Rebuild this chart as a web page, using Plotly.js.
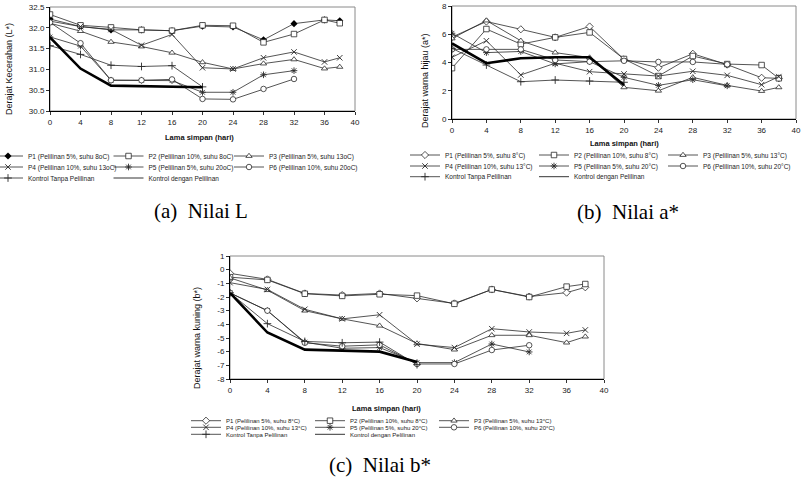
<!DOCTYPE html>
<html><head><meta charset="utf-8">
<script src="https://cdn.plot.ly/plotly-3.0.1.min.js"></script>
<style>html,body{margin:0;padding:0;background:#fff}#chart{width:804px;height:486px}</style>
</head><body><div id="chart"></div>
<script>
// ---- data ----
const days = [0, 4, 8, 12, 16, 20, 24, 28, 32, 36, 38];
const daysShort = [0, 4, 8, 12, 16, 20, 24, 28, 32];
const daysKontrol = [0, 4, 8, 12, 16, 20];

// (a) Nilai L
const L_P1 = [32.21, 32.03, 31.95, 31.95, 31.93, 32.04, 32.02, 31.71, 32.10, 32.19, 32.17];
const L_P2 = [32.32, 32.06, 32.01, 31.95, 31.93, 32.06, 32.05, 31.65, 31.85, 32.19, 32.11];
const L_P3 = [32.11, 31.92, 31.66, 31.55, 31.40, 31.17, 31.01, 31.14, 31.24, 31.02, 31.06];
const L_P4 = [32.16, 32.03, 31.96, 31.58, 31.84, 31.04, 31.01, 31.28, 31.42, 31.18, 31.28];
const L_P5 = [31.78, 31.56, 30.74, 30.74, 30.73, 30.45, 30.45, 30.87, 30.97];
const L_P6 = [32.13, 31.63, 30.74, 30.74, 30.76, 30.29, 30.28, 30.53, 30.77];
const L_KT = [31.57, 31.36, 31.10, 31.07, 31.09, 30.58];
const L_KD = [31.77, 31.02, 30.61, 30.60, 30.58, 30.57];

// (b) Nilai a*
const A_P1 = [5.80, 6.90, 6.35, 5.78, 6.55, 4.22, 3.63, 4.62, 3.85, 2.92, 2.88];
const A_P2 = [3.60, 6.37, 5.30, 5.78, 6.13, 4.25, 3.04, 4.46, 3.89, 3.82, 2.88];
const A_P3 = [5.70, 6.97, 5.54, 4.70, 4.35, 2.24, 2.00, 2.95, 2.38, 1.98, 2.24];
const A_P4 = [4.37, 5.54, 3.12, 3.95, 3.35, 3.19, 3.04, 3.38, 3.09, 2.43, 3.00];
const A_P5 = [6.07, 4.70, 4.78, 3.90, 4.06, 2.95, 2.38, 2.78, 2.35];
const A_P6 = [4.93, 4.93, 4.93, 4.18, 4.06, 4.12, 4.04, 4.04, 3.87];
const A_KT = [5.00, 3.82, 2.64, 2.76, 2.69, 2.60];
const A_KD = [5.35, 3.95, 4.30, 4.37, 4.37, 2.40];

// (c) Nilai b*
const B_P1 = [-0.27, -0.71, -1.74, -1.86, -1.74, -2.10, -2.47, -1.45, -1.97, -1.68, -1.29];
const B_P2 = [-0.55, -0.75, -1.76, -1.92, -1.80, -1.90, -2.50, -1.45, -2.00, -1.24, -1.05];
const B_P3 = [-0.60, -1.50, -3.00, -3.60, -4.10, -5.40, -5.85, -4.80, -4.80, -5.34, -4.90];
const B_P4 = [-0.95, -1.45, -2.90, -3.60, -3.30, -5.45, -5.70, -4.32, -4.56, -4.66, -4.41];
const B_P5 = [-1.70, -3.00, -5.30, -5.75, -5.70, -6.80, -6.80, -5.44, -6.02];
const B_P6 = [-1.70, -3.00, -5.35, -5.60, -5.50, -6.90, -6.90, -5.88, -5.53];
const B_KT = [-1.70, -3.95, -5.25, -5.35, -5.30, -6.95];
const B_KD = [-1.70, -4.60, -5.85, -5.90, -6.00, -6.75];

// tick labels for (c) y axis (plain hyphen minus as in the reference)
const bTickVals = [1, 0, -1, -2, -3, -4, -5, -6, -7, -8];
const bTickText = ['1', '0', '-1', '-2', '-3', '-4', '-5', '-6', '-7', '-8'];

const namesA = ['P1 (Pelilinan 5%, suhu 8oC)', 'P2 (Pelilinan 10%, suhu 8oC)', 'P3 (Pelilinan 5%, suhu 13oC)',
  'P4 (Pelilinan 10%, suhu 13oC)', 'P5 (Pelilinan 5%, suhu 20oC)', 'P6 (Pelilinan 10%, suhu 20oC)',
  'Kontrol Tanpa Pelilinan', 'Kontrol dengan Pelilinan'];
const namesBC = ['P1 (Pelilinan 5%, suhu 8°C)', 'P2 (Pelilinan 10%, suhu 8°C)', 'P3 (Pelilinan 5%, suhu 13°C)',
  'P4 (Pelilinan 10%, suhu 13°C)', 'P5 (Pelilinan 5%, suhu 20°C)', 'P6 (Pelilinan 10%, suhu 20°C)',
  'Kontrol Tanpa Pelilinan', 'Kontrol dengan Pelilinan'];
const xTitle = 'Lama simpan (hari)';
const yTitles = ['Derajat Kecerahan (L*)', 'Derajat warna hijau (a*)', 'Derajat warna kuning (b*)'];
const captions = ['(a)  Nilai L', '(b)  Nilai a*', '(c)  Nilai b*'];

// ---- styling / layout ----
const W = 804, H = 486;
const px = x => x / W;
const py = y => 1 - y / H;
const FONT = 'Arial, "Liberation Sans", sans-serif';
const LC = '#2a2a2a';
const MS = 5.5;

function markerFor(i, chart) {
  const white = (sym) => ({symbol: sym, size: MS, color: '#fff', line: {color: LC, width: 0.8}});
  const open = (sym) => ({symbol: sym, size: MS, color: LC, line: {width: 0.9}});
  switch (i) {
    case 0: return chart === 0 ? {symbol: 'diamond', size: MS, color: '#000', line: {width: 0}} : white('diamond');
    case 1: return white('square');
    case 2: return white('triangle-up');
    case 3: return open('x-thin-open');
    case 4: return open('asterisk-open');
    case 5: return white('circle');
    case 6: return open('cross-thin-open');
  }
}

const charts = [
  {xs: [days, days, days, days, daysShort, daysShort, daysKontrol, daysKontrol],
   ys: [L_P1, L_P2, L_P3, L_P4, L_P5, L_P6, L_KT, L_KD], names: namesA},
  {xs: [days, days, days, days, daysShort, daysShort, daysKontrol, daysKontrol],
   ys: [A_P1, A_P2, A_P3, A_P4, A_P5, A_P6, A_KT, A_KD], names: namesBC},
  {xs: [days, days, days, days, daysShort, daysShort, daysKontrol, daysKontrol],
   ys: [B_P1, B_P2, B_P3, B_P4, B_P5, B_P6, B_KT, B_KD], names: namesBC}
];
const lastColWidth = [100, 130, 130];

const axSuffix = ['', '2', '3'];
const traces = [];
charts.forEach((c, ci) => {
  for (let i = 0; i < 8; i++) {
    const row = i < 3 ? 0 : (i < 6 ? 1 : 2);
    const col = i < 6 ? i % 3 : i - 6;
    const legNum = ci * 3 + row + 1;
    const t = {
      type: 'scatter', x: c.xs[i], y: c.ys[i], name: c.names[i],
      xaxis: 'x' + axSuffix[ci], yaxis: 'y' + axSuffix[ci],
      legend: legNum === 1 ? 'legend' : 'legend' + legNum,
      hoverinfo: 'skip'
    };
    if (col === 2) t.legendwidth = lastColWidth[ci];
    if (i === 7) {
      // thin legend entry (hidden under the thick line) + thick line without legend
      t.mode = 'lines';
      t.line = {color: '#000', width: 0.8};
      traces.push(t);
      traces.push({type: 'scatter', mode: 'lines', x: c.xs[i], y: c.ys[i], name: c.names[i],
        xaxis: 'x' + axSuffix[ci], yaxis: 'y' + axSuffix[ci], showlegend: false, hoverinfo: 'skip',
        line: {color: '#000', width: 2.6}});
    } else {
      t.mode = 'lines+markers';
      t.line = {color: LC, width: 0.8};
      t.marker = markerFor(i, ci);
      traces.push(t);
    }
  }
});

const geom = [
  {x0: 50, x1: 355, y0: 7, y1: 111, yr: [30, 32.5], dt: 0.5, fmt: '.1f'},
  {x0: 452, x1: 796, y0: 6, y1: 119, yr: [0, 8], dt: 2, fmt: 'd'},
  {x0: 230, x1: 604, y0: 256, y1: 379, yr: [-8, 1], dt: 1, fmt: 'd'}
];

const layout = {
  width: W, height: H,
  margin: {l: 0, r: 0, t: 0, b: 0, autoexpand: false},
  paper_bgcolor: '#fff', plot_bgcolor: '#fff',
  font: {family: FONT, color: '#222', size: 8},
  showlegend: true,
  shapes: [], annotations: []
};

geom.forEach((g, gi) => {
  const s = axSuffix[gi];
  layout['xaxis' + s] = {
    domain: [px(g.x0), px(g.x1)], range: [0, 40], anchor: 'y' + s,
    tickmode: 'linear', tick0: 0, dtick: 4, ticks: 'outside', ticklen: 3, tickwidth: 0.8, tickcolor: '#000',
    showline: true, linecolor: '#000', linewidth: 1, showgrid: false, zeroline: false,
    tickfont: {family: FONT, size: 8, color: '#222'}, fixedrange: true
  };
  layout['yaxis' + s] = {
    domain: [py(g.y1), py(g.y0)], range: g.yr, anchor: 'x' + s,
    tickmode: 'linear', tick0: 0, dtick: g.dt, tickformat: g.fmt, ticks: 'outside', ticklen: 3, tickwidth: 0.8, tickcolor: '#000',
    showline: true, linecolor: '#000', linewidth: 1, showgrid: false, zeroline: false,
    tickfont: {family: FONT, size: 8, color: '#222'}, fixedrange: true
  };
  layout.shapes.push({type: 'rect', xref: 'x' + s + ' domain', yref: 'y' + s + ' domain',
    x0: 0, x1: 1, y0: 0, y1: 1, line: {color: '#8a8a8a', width: 1}, layer: 'below'});
});
layout.yaxis3.tickmode = 'array';
layout.yaxis3.tickvals = bTickVals;
layout.yaxis3.ticktext = bTickText;

// axis titles and captions
const xTitlePos = [[199, 137], [624, 143], [386, 408]];
const yTitlePos = [[9, 69], [425, 80], [197, 338]];
const capPos = [[201, 211], [628, 212], [380, 465]];
for (let i = 0; i < 3; i++) {
  layout.annotations.push({text: '<b>' + xTitle + '</b>', xref: 'paper', yref: 'paper',
    x: px(xTitlePos[i][0]), y: py(xTitlePos[i][1]), xanchor: 'center', yanchor: 'middle', showarrow: false,
    font: {family: FONT, size: 7.5, color: '#111'}});
  layout.annotations.push({text: yTitles[i], xref: 'paper', yref: 'paper', textangle: -90,
    x: px(yTitlePos[i][0]), y: py(yTitlePos[i][1]), xanchor: 'center', yanchor: 'middle', showarrow: false,
    font: {family: FONT, size: 9, color: '#111'}});
  layout.annotations.push({text: captions[i], xref: 'paper', yref: 'paper',
    x: px(capPos[i][0]), y: py(capPos[i][1]), xanchor: 'center', yanchor: 'middle', showarrow: false,
    font: {family: '"Liberation Serif", "Times New Roman", serif', size: 21, color: '#000'}});
}

// legends: 3 rows per chart, each a one-row horizontal legend
const legGeom = [
  {x: 28, rows: [156, 167, 178], ew: 75.5, fs: 6.5},
  {x: 445, rows: [155, 166, 176.7], ew: 84, fs: 6.5},
  {x: 226, rows: [420.7, 427.3, 434.3], ew: 79, fs: 6}
];
legGeom.forEach((lg, ci) => {
  lg.rows.forEach((ry, r) => {
    const n = ci * 3 + r + 1;
    const key = n === 1 ? 'legend' : 'legend' + n;
    layout[key] = {
      orientation: 'h', x: px(lg.x - 40), xanchor: 'left', y: py(ry - 14.5), yanchor: 'top',
      bgcolor: 'rgba(0,0,0,0)', borderwidth: 0, traceorder: 'normal',
      entrywidth: lg.ew, entrywidthmode: 'pixels', itemclick: false, itemdoubleclick: false,
      font: {family: FONT, size: lg.fs, color: '#222'}
    };
  });
});

Plotly.newPlot('chart', traces, layout, {displayModeBar: false, staticPlot: true});
</script>
</body></html>
